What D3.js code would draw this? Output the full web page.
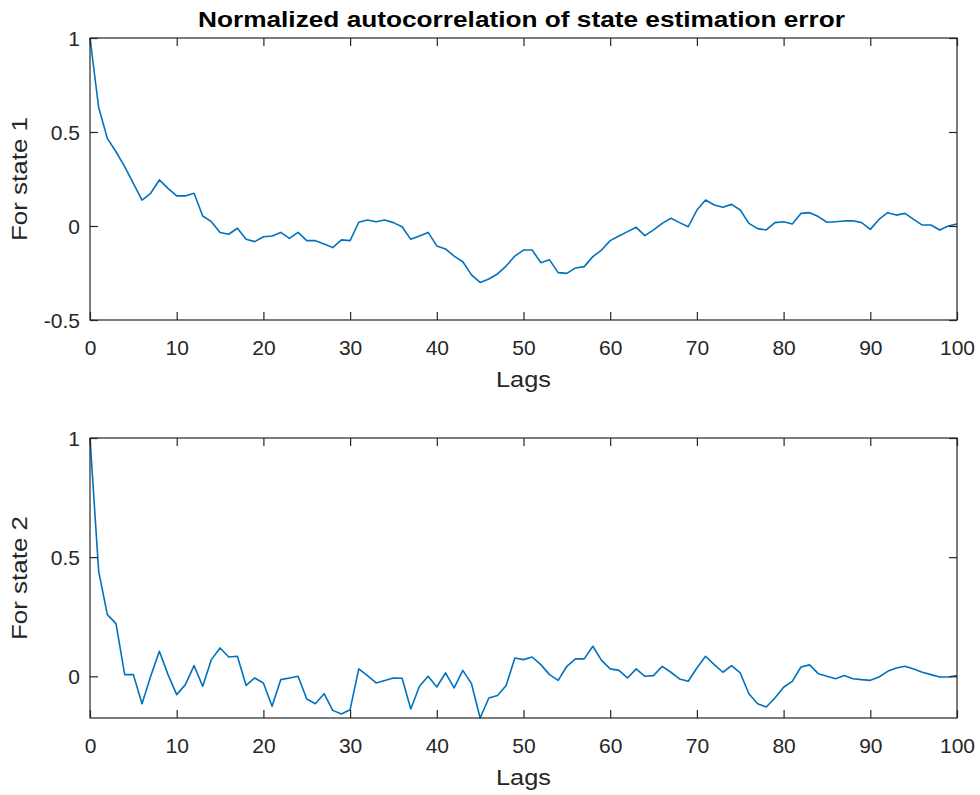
<!DOCTYPE html>
<html>
<head>
<meta charset="utf-8">
<script src="https://cdn.jsdelivr.net/npm/d3@7"></script>
<style>
  html, body { margin: 0; padding: 0; background: #fff; }
  svg { display: block; }
  text { font-family: "Liberation Sans", Arial, Helvetica, sans-serif; }
</style>
</head>
<body>
<svg id="chart" width="980" height="795"></svg>
<script>
const titleText = "Normalized autocorrelation of state estimation error";
const xLabelText = "Lags";
const yLabels = ["For state 1", "For state 2"];
const xTicks = [0, 10, 20, 30, 40, 50, 60, 70, 80, 90, 100];
const yTicks1 = [-0.5, 0, 0.5, 1];
const yTicks2 = [0, 0.5, 1];
const yDomain1 = [-0.5, 1];
const yDomain2 = [-0.175, 1];

const state1 = [
  1.0, 0.63, 0.466, 0.395, 0.316, 0.227, 0.138, 0.174, 0.245, 0.2,
  0.16, 0.16, 0.174, 0.053, 0.023, -0.035, -0.044, -0.012, -0.071, -0.083,
  -0.057, -0.053, -0.034, -0.066, -0.034, -0.078, -0.078, -0.096, -0.115, -0.074,
  -0.078, 0.02, 0.032, 0.023, 0.032, 0.018, -0.004, -0.071, -0.053, -0.034,
  -0.106, -0.122, -0.16, -0.19, -0.26, -0.30, -0.282, -0.255, -0.213, -0.16,
  -0.128, -0.128, -0.195, -0.18, -0.248, -0.252, -0.223, -0.216, -0.163, -0.128,
  -0.078, -0.053, -0.03, -0.007, -0.051, -0.021, 0.014, 0.041, 0.018, -0.004,
  0.085, 0.138, 0.112, 0.1, 0.115, 0.085, 0.014, -0.014, -0.021, 0.018,
  0.023, 0.011, 0.067, 0.071, 0.05, 0.02, 0.023, 0.027, 0.028, 0.018,
  -0.018, 0.035, 0.071, 0.058, 0.067, 0.035, 0.005, 0.005, -0.021, 0.0,
  0.011
];

const state2 = [
  1.0, 0.44, 0.259, 0.221, 0.007, 0.007, -0.115, 0.0, 0.105, 0.007,
  -0.077, -0.035, 0.045, -0.042, 0.07, 0.119, 0.081, 0.084, -0.038, -0.007,
  -0.028, -0.126, -0.014, -0.007, 0.0, -0.095, -0.115, -0.073, -0.143, -0.158,
  -0.14, 0.031, 0.003, -0.028, -0.018, -0.007, -0.008, -0.137, -0.042, 0.0,
  -0.045, 0.014, -0.049, 0.025, -0.031, -0.175, -0.091, -0.081, -0.039, 0.077,
  0.07, 0.081, 0.049, 0.007, -0.017, 0.042, 0.073, 0.073, 0.126, 0.067,
  0.031, 0.025, -0.007, 0.031, 0.0, 0.003, 0.042, 0.017, -0.011, -0.021,
  0.035, 0.084, 0.049, 0.017, 0.045, 0.014, -0.073, -0.115, -0.129, -0.091,
  -0.046, -0.021, 0.039, 0.048, 0.011, 0.0, -0.01, 0.003, -0.01, -0.014,
  -0.017, -0.003, 0.021, 0.035, 0.042, 0.031, 0.017, 0.007, -0.003, -0.003,
  0.003
];

const svg = d3.select("#chart");
const axisColor = "#262626";
const lineColor = "#0072BD";
const left = 90, right = 957;
const tickLen = 8;

const x = d3.scaleLinear().domain([0, 100]).range([left, right]);

function fmt(v) { return String(v); }

function panel(top, bottom, yDomain, yTicks, values, yLabel, showTitle) {
  const y = d3.scaleLinear().domain(yDomain).range([bottom, top]);
  const g = svg.append("g");

  // data line
  const line = d3.line().x((d, i) => x(i)).y(d => y(d));
  g.append("path")
    .datum(values)
    .attr("fill", "none")
    .attr("stroke", lineColor)
    .attr("stroke-width", 1.6)
    .attr("stroke-linejoin", "round")
    .attr("d", line);

  // box
  g.append("rect")
    .attr("x", left).attr("y", top)
    .attr("width", right - left).attr("height", bottom - top)
    .attr("fill", "none").attr("stroke", axisColor).attr("stroke-width", 1.2);

  // bottom axis (ticks inward)
  const xb = d3.axisBottom(x).tickValues(xTicks).tickSize(-tickLen).tickPadding(tickLen + 12).tickFormat(fmt);
  const gxb = g.append("g").attr("transform", `translate(0,${bottom})`).call(xb);
  gxb.select(".domain").remove();
  gxb.selectAll("line").attr("stroke", axisColor).attr("stroke-width", 1.2);
  gxb.selectAll("text").attr("fill", axisColor).attr("font-size", 21)
     .attr("y", null).attr("dy", null).attr("transform", `translate(0,${35})`);

  // top axis ticks
  const xt = d3.axisTop(x).tickValues(xTicks).tickSize(-tickLen).tickFormat("");
  const gxt = g.append("g").attr("transform", `translate(0,${top})`).call(xt);
  gxt.select(".domain").remove();
  gxt.selectAll("line").attr("stroke", axisColor).attr("stroke-width", 1.2);

  // left axis
  const yl = d3.axisLeft(y).tickValues(yTicks).tickSize(-tickLen).tickPadding(tickLen + 10).tickFormat(fmt);
  const gyl = g.append("g").attr("transform", `translate(${left},0)`).call(yl);
  gyl.select(".domain").remove();
  gyl.selectAll("line").attr("stroke", axisColor).attr("stroke-width", 1.2);
  gyl.selectAll("text").attr("fill", axisColor).attr("font-size", 21)
     .attr("x", -10).attr("dy", "0.36em");

  // right axis ticks
  const yr = d3.axisRight(y).tickValues(yTicks).tickSize(-tickLen).tickFormat("");
  const gyr = g.append("g").attr("transform", `translate(${right},0)`).call(yr);
  gyr.select(".domain").remove();
  gyr.selectAll("line").attr("stroke", axisColor).attr("stroke-width", 1.2);

  // x label
  g.append("text")
    .attr("x", (left + right) / 2).attr("y", bottom + 66.5)
    .attr("text-anchor", "middle")
    .attr("font-size", 22).attr("fill", axisColor)
    .attr("textLength", 55).attr("lengthAdjust", "spacingAndGlyphs")
    .text(xLabelText);

  // y label
  const cy = (top + bottom) / 2;
  g.append("text")
    .attr("transform", `translate(27,${cy}) rotate(-90)`)
    .attr("text-anchor", "middle")
    .attr("font-size", 22).attr("fill", axisColor)
    .attr("textLength", 124).attr("lengthAdjust", "spacingAndGlyphs")
    .text(yLabel);

  if (showTitle) {
    g.append("text")
      .attr("x", 521.5).attr("y", 26.5)
      .attr("text-anchor", "middle")
      .attr("font-size", 22).attr("font-weight", "bold").attr("fill", "#000")
      .attr("textLength", 647).attr("lengthAdjust", "spacingAndGlyphs")
      .text(titleText);
  }
}

panel(38, 320, yDomain1, yTicks1, state1, yLabels[0], true);
panel(438, 718, yDomain2, yTicks2, state2, yLabels[1], false);
</script>
</body>
</html>
